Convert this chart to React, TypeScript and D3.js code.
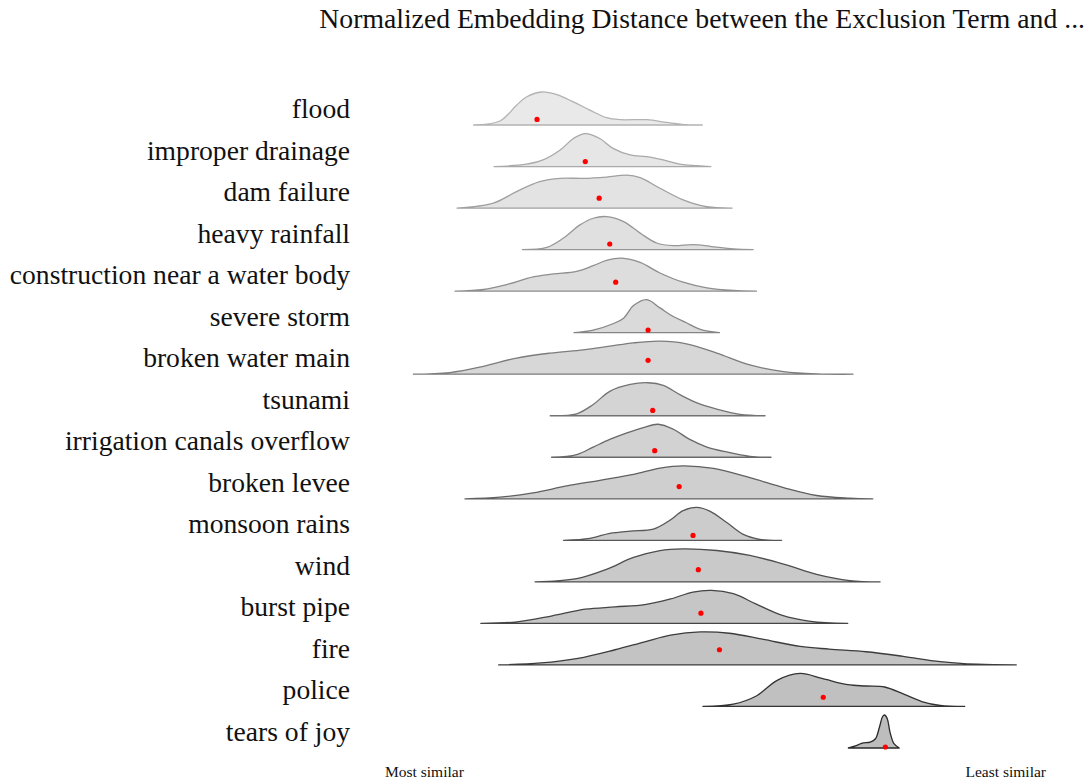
import React from "react";
import * as d3 from "d3";

// rows, top to bottom
const categories = [
  "flood",
  "improper drainage",
  "dam failure",
  "heavy rainfall",
  "construction near a water body",
  "severe storm",
  "broken water main",
  "tsunami",
  "irrigation canals overflow",
  "broken levee",
  "monsoon rains",
  "wind",
  "burst pipe",
  "fire",
  "police",
  "tears of joy",
];

// mean normalized distance (red dot) and its lift above the baseline (share of ridge height)
const meanDistance = [0.23, 0.303, 0.324, 0.34, 0.349, 0.398, 0.398, 0.405, 0.408, 0.445, 0.466, 0.474, 0.478, 0.506, 0.663, 0.757];
const meanLift = [0.17, 0.15, 0.3, 0.17, 0.27, 0.08, 0.42, 0.16, 0.2, 0.37, 0.15, 0.37, 0.31, 0.46, 0.28, 0.03];

// density profiles: [distance, relative density]
const profiles: [number, number][][] = [
  [[0.134, 0], [0.174, 0.12], [0.199, 0.6], [0.214, 0.85], [0.237, 1], [0.26, 0.92], [0.285, 0.7], [0.31, 0.45], [0.335, 0.22], [0.356, 0.16], [0.396, 0.16], [0.426, 0.08], [0.456, 0.01], [0.48, 0]],
  [[0.165, 0], [0.214, 0.07], [0.239, 0.2], [0.265, 0.5], [0.285, 0.85], [0.303, 1], [0.325, 0.85], [0.345, 0.55], [0.371, 0.35], [0.396, 0.3], [0.421, 0.2], [0.446, 0.07], [0.493, 0]],
  [[0.109, 0], [0.164, 0.15], [0.199, 0.5], [0.234, 0.8], [0.265, 0.9], [0.3, 0.9], [0.335, 0.94], [0.366, 1], [0.386, 0.92], [0.416, 0.6], [0.451, 0.25], [0.487, 0.04], [0.525, 0]],
  [[0.208, 0], [0.245, 0.07], [0.27, 0.35], [0.295, 0.75], [0.315, 0.95], [0.335, 1], [0.361, 0.85], [0.386, 0.5], [0.411, 0.2], [0.436, 0.12], [0.466, 0.15], [0.492, 0.1], [0.527, 0.02], [0.557, 0]],
  [[0.106, 0], [0.149, 0.05], [0.184, 0.2], [0.224, 0.43], [0.255, 0.52], [0.29, 0.6], [0.315, 0.77], [0.335, 0.93], [0.358, 1], [0.386, 0.87], [0.416, 0.55], [0.451, 0.27], [0.487, 0.1], [0.527, 0.02], [0.562, 0]],
  [[0.286, 0], [0.315, 0.08], [0.345, 0.27], [0.361, 0.44], [0.376, 0.82], [0.396, 1], [0.416, 0.75], [0.436, 0.49], [0.456, 0.3], [0.477, 0.1], [0.506, 0]],
  [[0.043, 0], [0.098, 0.05], [0.149, 0.24], [0.199, 0.49], [0.25, 0.64], [0.3, 0.74], [0.34, 0.85], [0.376, 0.95], [0.416, 1], [0.456, 0.92], [0.502, 0.64], [0.552, 0.28], [0.603, 0.08], [0.653, 0.01], [0.708, 0]],
  [[0.25, 0], [0.29, 0.06], [0.315, 0.34], [0.34, 0.74], [0.371, 0.95], [0.398, 1], [0.421, 0.92], [0.446, 0.64], [0.472, 0.39], [0.502, 0.2], [0.537, 0.04], [0.575, 0]],
  [[0.252, 0], [0.29, 0.08], [0.315, 0.31], [0.34, 0.54], [0.366, 0.74], [0.391, 0.9], [0.413, 1], [0.436, 0.85], [0.461, 0.54], [0.487, 0.31], [0.517, 0.16], [0.552, 0.03], [0.584, 0]],
  [[0.121, 0], [0.174, 0.05], [0.224, 0.18], [0.275, 0.39], [0.325, 0.56], [0.376, 0.74], [0.416, 0.93], [0.451, 1], [0.497, 0.92], [0.552, 0.64], [0.603, 0.34], [0.653, 0.1], [0.703, 0.02], [0.738, 0]],
  [[0.27, 0], [0.31, 0.06], [0.34, 0.21], [0.371, 0.28], [0.406, 0.34], [0.431, 0.61], [0.451, 0.9], [0.472, 1], [0.492, 0.88], [0.517, 0.54], [0.542, 0.18], [0.567, 0.03], [0.6, 0]],
  [[0.227, 0], [0.29, 0.1], [0.335, 0.38], [0.376, 0.74], [0.416, 0.95], [0.451, 1], [0.502, 0.95], [0.552, 0.8], [0.603, 0.54], [0.653, 0.23], [0.703, 0.04], [0.749, 0]],
  [[0.145, 0], [0.197, 0.04], [0.253, 0.23], [0.303, 0.43], [0.348, 0.5], [0.393, 0.57], [0.432, 0.74], [0.466, 0.95], [0.494, 1], [0.527, 0.9], [0.561, 0.59], [0.6, 0.25], [0.644, 0.06], [0.7, 0]],
  [[0.172, 0], [0.236, 0.06], [0.292, 0.2], [0.348, 0.46], [0.393, 0.7], [0.432, 0.9], [0.477, 1], [0.521, 0.96], [0.571, 0.78], [0.628, 0.56], [0.672, 0.48], [0.728, 0.4], [0.784, 0.26], [0.84, 0.1], [0.896, 0.02], [0.955, 0]],
  [[0.481, 0], [0.527, 0.07], [0.561, 0.31], [0.594, 0.8], [0.628, 1], [0.661, 0.85], [0.7, 0.66], [0.728, 0.62], [0.756, 0.59], [0.784, 0.38], [0.812, 0.15], [0.84, 0.03], [0.877, 0]],
  [[0.701, 0], [0.714, 0.08], [0.722, 0.15], [0.734, 0.18], [0.742, 0.28], [0.748, 0.63], [0.753, 0.96], [0.756, 1], [0.76, 0.88], [0.764, 0.48], [0.77, 0.13], [0.778, 0]],
];

const title = "Normalized Embedding Distance between the Exclusion Term and ...";

export default function App() {
  const width = 1092;
  const height = 782;
  const serif = "'Liberation Serif', 'DejaVu Serif', serif";

  const x = d3.scaleLinear().domain([0, 1]).range([385, 1046]);
  const y = d3.scalePoint().domain(categories).range([125, 748]);
  const ridge = d3.scaleLinear().domain([0, 1]).range([0, 33]);

  const t = (i: number) => i / (categories.length - 1);
  const fillColor = d3.interpolateRgb("#e9e9e9", "#bdbdbd");
  const strokeColor = d3.interpolateRgb("#b2b2b2", "#2a2a2a");

  return (
    <div style={{ position: "absolute", left: 0, top: 0 }}>
      <svg width={width} height={height} style={{ display: "block", background: "#fff" }}>
        <text x={1085} y={28} textAnchor="end" fontFamily={serif} fontSize={27.7} fill="#111">
          {title}
        </text>

        {categories.map((c, i) => {
          const base = y(c)!;
          const area = d3
            .area<[number, number]>()
            .x((d) => x(d[0]))
            .y0(base)
            .y1((d) => Math.min(base, base - ridge(d[1])))
            .curve(d3.curveCatmullRom.alpha(0.5));
          return (
            <g key={c}>
              <text x={350} y={base - 7} textAnchor="end" fontFamily={serif} fontSize={27.6} fill="#111">
                {c}
              </text>
              <path
                d={area(profiles[i]) ?? ""}
                fill={fillColor(t(i))}
                stroke={strokeColor(t(i))}
                strokeWidth={1.3}
                strokeLinejoin="round"
              />
              <circle cx={x(meanDistance[i])} cy={base - ridge(meanLift[i])} r={2.6} fill="#ff0000" />
            </g>
          );
        })}

        <text x={x(0)} y={777} fontFamily={serif} fontSize={15.5} fill="#111">
          Most similar
        </text>
        <text x={x(1)} y={777} textAnchor="end" fontFamily={serif} fontSize={15.5} fill="#111">
          Least similar
        </text>
      </svg>
    </div>
  );
}
